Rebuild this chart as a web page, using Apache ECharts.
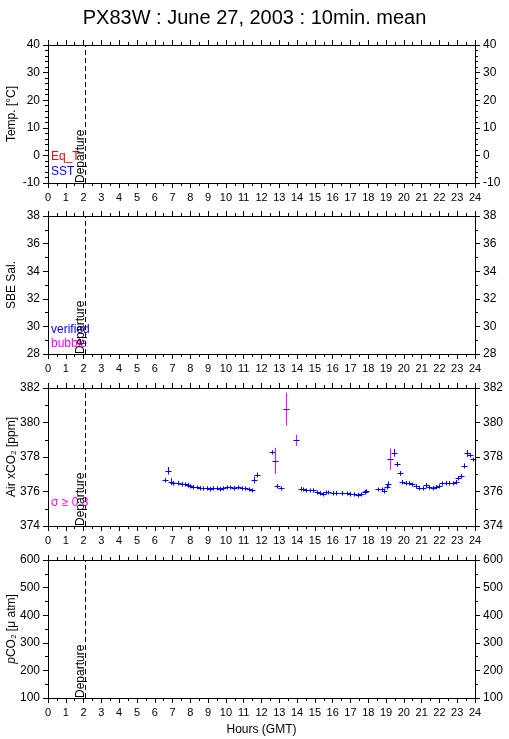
<!DOCTYPE html>
<html><head><meta charset="utf-8">
<script src="https://cdn.jsdelivr.net/npm/echarts@6/dist/echarts.min.js"></script>
<style>html,body{margin:0;padding:0;background:#fff}#c{width:509px;height:739px}</style>
</head><body><div id="c"></div>
<script>
// ---- data ----
const title = 'PX83W : June 27, 2003 : 10min. mean';
const departureHour = [2.1];
const hourTicks = [0, 24, 1];
const tempRange = [-10, 40, 10];
const salRange = [28, 38, 2];
const xco2Range = [374, 382, 2];
const pco2Range = [100, 600, 100];
const xco2Hours = [6.58,6.76,6.92,7.05,7.29,7.51,7.68,7.85,7.98,8.17,8.36,8.55,8.74,8.93,9.1,9.3,9.5,9.68,9.85,10.04,10.25,10.45,10.7,10.9,11.1,11.3,11.45,11.58,11.77,12.57,12.76,12.89,13.08,13.4,13.92,14.2,14.35,14.5,14.7,14.91,15.1,15.27,15.44,15.6,15.76,16.0,16.2,16.5,16.78,16.97,17.22,17.45,17.62,17.8,17.9,18.57,18.75,18.9,19.04,19.13,19.24,19.43,19.6,19.78,19.92,20.1,20.3,20.48,20.66,20.85,21.05,21.25,21.43,21.62,21.8,21.98,22.16,22.36,22.55,22.75,22.92,23.07,23.22,23.4,23.57,23.72,23.9];
const xco2Values = [376.67,377.2,376.57,376.51,376.5,376.45,376.43,376.38,376.32,376.28,376.24,376.22,376.2,376.2,376.16,376.2,376.2,376.17,376.2,376.26,376.24,376.22,376.24,376.2,376.18,376.13,376.07,376.67,376.96,378.27,377.78,376.32,376.18,380.77,378.97,376.16,376.12,376.07,376.07,376.09,375.95,375.93,375.84,375.95,375.95,375.93,375.93,375.93,375.9,375.88,375.84,375.82,375.84,375.99,376.03,376.13,376.13,376.05,376.28,376.43,377.87,378.24,377.58,377.05,376.57,376.51,376.5,376.41,376.32,376.22,376.2,376.38,376.26,376.22,376.28,376.32,376.47,376.51,376.51,376.47,376.57,376.76,376.9,377.49,378.21,378.12,377.87];
const xco2Sigma = [0.12,0.22,0.2,0.1,0.1,0.1,0.1,0.12,0.1,0.1,0.1,0.1,0.1,0.1,0.1,0.1,0.1,0.1,0.1,0.1,0.1,0.1,0.1,0.1,0.1,0.1,0.1,0.2,0.14,0.12,0.75,0.12,0.1,0.95,0.33,0.1,0.1,0.1,0.1,0.1,0.1,0.1,0.12,0.1,0.1,0.1,0.1,0.1,0.1,0.1,0.1,0.1,0.1,0.1,0.1,0.1,0.1,0.12,0.12,0.15,0.62,0.22,0.14,0.14,0.1,0.1,0.1,0.1,0.1,0.1,0.1,0.12,0.1,0.1,0.1,0.1,0.1,0.1,0.1,0.1,0.1,0.12,0.12,0.14,0.2,0.1,0.1];
const sigmaLimit = 0.3;

// ---- layout/styling ----
const FONT = 'Liberation Sans, Arial, Helvetica, sans-serif';
const tops = [45, 216, 388, 560];
const H = 138;
const ranges = [tempRange, salRange, xco2Range, pco2Range];
const minorSplits = [5, 2, 2, 2];
const names = ['Temp. [°C]', 'SBE Sal.', 'Air xCO₂ [ppm]', '{i|p}CO₂ [μ atm]'];

const grids = tops.map(t => ({left: 48, width: 427, top: t, height: H, containLabel: false, outerBoundsMode: 'none'}));
const axisLine = {show: true, onZero: false, lineStyle: {color: '#000', width: 1}};
const tick = {show: true, inside: false, length: 5, lineStyle: {color: '#000'}};
const xAxes = [], yAxes = [];
tops.forEach((t, i) => {
  const base = {type: 'value', gridIndex: i, min: hourTicks[0], max: hourTicks[1], interval: hourTicks[2],
    axisLine, axisTick: tick, splitLine: {show: false},
    minorTick: {show: true, splitNumber: 2, length: 3, lineStyle: {color: '#000'}}};
  xAxes.push(Object.assign({}, base, {position: 'bottom',
    axisLabel: {show: true, fontFamily: FONT, fontSize: 11, color: '#000', margin: 9},
    name: i === 3 ? 'Hours (GMT)' : '', nameLocation: 'middle', nameGap: 26, nameMoveOverlap: false,
    nameTextStyle: {fontFamily: FONT, fontSize: 12, color: '#000'}}));
  xAxes.push(Object.assign({}, base, {position: 'top', axisLabel: {show: false}}));
  const r = ranges[i];
  const ybase = {type: 'value', gridIndex: i, min: r[0], max: r[1], interval: r[2],
    axisLine, axisTick: tick, splitLine: {show: false},
    minorTick: {show: true, splitNumber: minorSplits[i], length: 3, lineStyle: {color: '#000'}},
    axisLabel: {show: true, fontFamily: FONT, fontSize: 12, color: '#000', margin: 8}};
  yAxes.push(Object.assign({}, ybase, {position: 'left', name: names[i], nameLocation: 'middle',
    nameRotate: 90, nameGap: 30, nameMoveOverlap: false,
    nameTextStyle: {fontFamily: FONT, fontSize: 12, color: '#000', rich: {i: {fontStyle: 'italic', fontFamily: FONT, fontSize: 12}}}}));
  yAxes.push(Object.assign({}, ybase, {position: 'right'}));
});

const series = [];
tops.forEach((t, i) => {
  series.push({
    type: 'custom', xAxisIndex: 2 * i, yAxisIndex: 2 * i, clip: false,
    data: departureHour.map(h => [h]),
    renderItem: (params, api) => {
      const r = ranges[i];
      const b = api.coord([api.value(0), r[0]]);
      const tp = api.coord([api.value(0), r[1]]);
      const x = Math.round(b[0]) + 0.5;
      return {type: 'group', children: [
        {type: 'line', shape: {x1: x, y1: b[1], x2: x, y2: tp[1]}, style: {stroke: '#000', lineWidth: 1, lineDash: [5, 3]}},
        {type: 'text', x: x + 1, y: b[1], rotation: Math.PI / 2,
          style: {text: 'Departure', fill: '#000', font: '12px ' + FONT, textAlign: 'left', textVerticalAlign: 'bottom'}}
      ]};
    }
  });
});
series.push({
  type: 'custom', xAxisIndex: 4, yAxisIndex: 4,
  dimensions: ['hour', 'xco2', 'sigma'],
  encode: {x: 0, y: 1},
  data: xco2Hours.map((h, k) => [h, xco2Values[k], xco2Sigma[k]]),
  renderItem: (params, api) => {
    const h = api.value(0), v = api.value(1), s = api.value(2);
    const c = api.coord([h, v]);
    const up = api.coord([h, v + s]);
    const dn = api.coord([h, v - s]);
    const x = Math.round(c[0]) + 0.5, y = Math.round(c[1]) + 0.5;
    const y1 = Math.min(up[1], y - 2), y2 = Math.max(dn[1], y + 2);
    const col = s >= sigmaLimit ? '#ff00ff' : '#0000ff';
    return {type: 'group', children: [
      {type: 'line', shape: {x1: x, y1: y1, x2: x, y2: y2}, style: {stroke: col, lineWidth: 1}},
      {type: 'line', shape: {x1: x - 3, y1: y, x2: x + 3, y2: y}, style: {stroke: '#0000ff', lineWidth: 1}}
    ]};
  }
});

const txt = (left, top, text, color) => ({type: 'text', left, top,
  style: {text, fill: color, font: '12px ' + FONT}});

const chart = echarts.init(document.getElementById('c'), null, {renderer: 'canvas'});
chart.setOption({
  animation: false,
  backgroundColor: '#fff',
  title: {text: title, left: 'center', top: 3, textStyle: {fontFamily: FONT, fontSize: 20, fontWeight: 'normal', color: '#000'}},
  grid: grids, xAxis: xAxes, yAxis: yAxes, series,
  graphic: [
    txt(51, 151, 'Eq_T', '#ff0000'),
    txt(51, 166, 'SST', '#0000ff'),
    txt(51, 324, 'verified', '#0000ff'),
    txt(51, 338, 'bubble', '#ff00ff'),
    txt(51, 497, 'σ ≥ 0.3', '#ff00ff')
  ]
});
</script></body></html>
